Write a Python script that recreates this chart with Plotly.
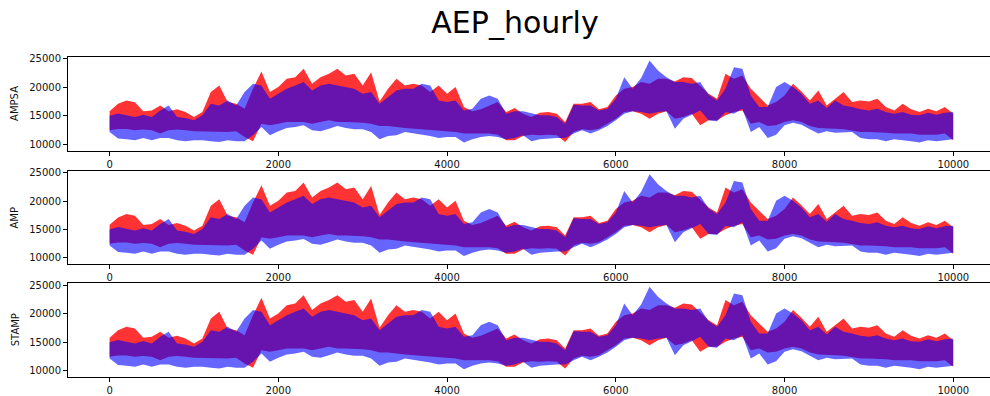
import plotly.graph_objects as go
from plotly.subplots import make_subplots

# Hour index of each sample (every 100 hours, plus the final hour)
hours = list(range(0, 10000, 100)) + [9999]

# Upper / lower envelope of the red series (MW)
red_hi = [15800, 17100, 17700, 17400, 15780, 15950, 16830, 15780, 16130, 15660,
          14790, 15660, 19170, 20330, 17410, 17120, 16250, 19750, 22790, 19170,
          20040, 21500, 21790, 23250, 20630, 21790, 22380, 23250, 22090, 22380,
          20330, 22670, 17530, 19750, 21500, 20330, 20630, 20330, 19170, 20330,
          18870, 20040, 16540, 15780, 16130, 16710, 17410, 15660, 16360, 15370,
          14790, 15540, 15660, 15370, 13910, 17120, 17120, 17410, 16130, 16540,
          18580, 19750, 20040, 20920, 20630, 21500, 21500, 21030, 21790, 21620,
          20330, 18870, 18000, 22380, 21500, 22090, 19750, 18290, 16830, 17410,
          18580, 20630, 19280, 17700, 19460, 16830, 18000, 19170, 17410, 17700,
          17530, 18000, 16540, 15950, 17120, 16130, 15660, 16250, 15780, 16540,
          15370]
red_lo = [12450, 12700, 12700, 12450, 12600, 12450, 11870, 12450, 12600, 12450,
          12270, 12270, 12150, 12150, 12150, 12270, 11280, 10520, 13620, 13330,
          13620, 13910, 13910, 13910, 13620, 13910, 14200, 13910, 13910, 13910,
          13790, 13620, 13210, 13210, 13030, 12860, 12740, 12630, 12450, 12270,
          12270, 12150, 11870, 11870, 11870, 11870, 11690, 10700, 10700, 11460,
          11690, 11570, 11690, 11570, 10410, 12160, 12630, 12450, 12740, 13620,
          14490, 15660, 15780, 15370, 14490, 15370, 15780, 14490, 14790, 15370,
          13330, 14200, 14200, 15080, 15660, 15950, 13620, 13910, 13210, 13330,
          13910, 14200, 13910, 13210, 12860, 12860, 12740, 12630, 12450, 12150,
          12150, 12150, 12040, 11870, 11870, 11870, 11690, 11690, 11690, 11870,
          10700]

# Upper / lower envelope of the blue series (MW)
blue_hi = [15000, 15400, 15100, 14800, 15200, 14800, 15950, 16830, 14800, 14600,
           14200, 15080, 17120, 16830, 17700, 16830, 19170, 20630, 20330, 18000,
           18870, 19750, 20330, 20920, 19460, 20330, 20630, 20330, 20040, 19750,
           18870, 19170, 17120, 18290, 19460, 19750, 19750, 20630, 20330, 17700,
           17410, 17700, 15950, 16250, 18000, 18580, 18000, 15370, 15780, 15780,
           15370, 15080, 15080, 14790, 13620, 16950, 16830, 16830, 15950, 16250,
           18000, 21790, 19750, 21620, 24710, 22960, 21790, 20920, 20920, 20630,
           20920, 18700, 17700, 19750, 23550, 23250, 18580, 16540, 16540, 20040,
           20920, 20040, 18870, 17120, 17700, 16360, 17700, 16830, 16540, 16130,
           15950, 16250, 15660, 15370, 15660, 15190, 15080, 15540, 15190, 15540,
           15660]
blue_lo = [12150, 11000, 10900, 10700, 11100, 10700, 11100, 11100, 10700, 10520,
           10700, 10700, 10520, 10400, 10700, 10520, 10520, 11600, 13030, 11570,
           12270, 12860, 13030, 13320, 12450, 12270, 12740, 13210, 12860, 12630,
           12630, 12150, 10870, 11460, 11570, 12150, 11860, 11690, 11460, 11110,
           11280, 11280, 10290, 10870, 11280, 11460, 11280, 10870, 11110, 11570,
           10520, 10870, 10990, 11110, 11110, 11870, 12450, 11870, 12450, 13210,
           14200, 15370, 15780, 15660, 15370, 15660, 15780, 12740, 14490, 15190,
           15950, 14200, 14030, 15660, 15370, 16250, 12150, 13030, 11110, 11690,
           13330, 13790, 13440, 12630, 11870, 12270, 12040, 12150, 12150, 11110,
           10870, 10870, 10520, 10870, 10700, 10520, 10290, 10700, 10520, 10700,
           10870]

panels = ["AMPSA", "AMP", "STAMP"]
x_ticks = [0, 2000, 4000, 6000, 8000, 10000]
y_ticks = [10000, 15000, 20000, 25000]

W, H = 990, 396
# vertical pixel extent (top, bottom) of each panel
panel_px = [(54.3, 149.0), (169.0, 263.3), (282.3, 377.3)]

FONT = "DejaVu Sans"
RED = "rgba(255,0,0,0.8)"
BLUE = "rgba(0,0,255,0.6)"


def band(lo, hi, color):
    return go.Scatter(
        x=hours + hours[::-1],
        y=hi + lo[::-1],
        fill="toself",
        fillcolor=color,
        line=dict(width=0),
        mode="lines",
        hoverinfo="skip",
        showlegend=False,
    )


fig = make_subplots(rows=3, cols=1)
annotations = []
for i, name in enumerate(panels):
    r = i + 1
    fig.add_trace(band(red_lo, red_hi, RED), row=r, col=1)
    fig.add_trace(band(blue_lo, blue_hi, BLUE), row=r, col=1)

    top, bot = panel_px[i]
    dom = [1 - bot / H, 1 - top / H]
    sfx = "" if r == 1 else str(r)
    fig.layout["xaxis" + sfx].update(
        domain=[0, 1], range=[-493, 10435], tickvals=x_ticks,
        tickformat="d", showline=True, linecolor="black", linewidth=1,
        mirror=True, ticks="outside", ticklen=4, tickwidth=1,
        tickcolor="black", showgrid=False, zeroline=False,
        tickfont=dict(family=FONT, size=10, color="#111"),
    )
    fig.layout["yaxis" + sfx].update(
        domain=dom, range=[8840, 25350], tickvals=y_ticks,
        tickformat="d", showline=True, linecolor="black", linewidth=1,
        mirror=False, ticks="outside", ticklen=4, tickwidth=1,
        tickcolor="black", showgrid=False, zeroline=False,
        tickfont=dict(family=FONT, size=10, color="#111"),
    )
    annotations.append(dict(
        text=name, textangle=-90, showarrow=False,
        xref="paper", yref="paper",
        x=-(68 - 15) / (W - 68), y=(dom[0] + dom[1]) / 2,
        xanchor="center", yanchor="middle",
        font=dict(family=FONT, size=10, color="#111"),
    ))

fig.update_layout(
    width=W, height=H,
    margin=dict(l=68, r=0, t=0, b=0),
    paper_bgcolor="white", plot_bgcolor="white",
    title=dict(text="AEP_hourly", x=515 / W, xanchor="center",
               y=1 - 22.5 / H, yanchor="middle", yref="container",
               font=dict(family=FONT, size=30, color="black")),
    annotations=annotations,
    showlegend=False,
)

fig.write_html("out.html")
